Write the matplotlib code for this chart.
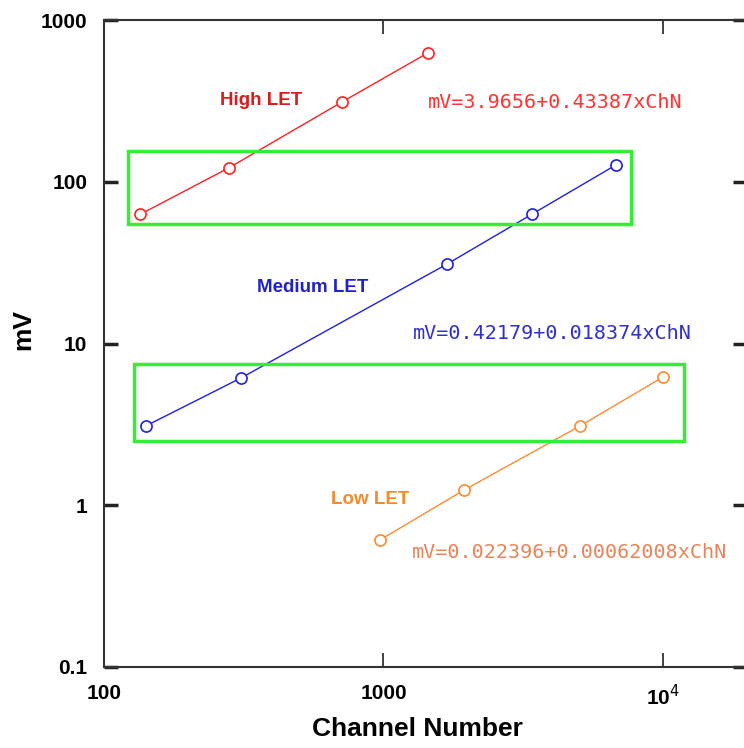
import matplotlib
matplotlib.use("Agg")
import matplotlib.pyplot as plt
from matplotlib.patches import Rectangle

# channel number vs mV for the three LET ranges
high_ch = [135, 280, 710, 1440]
high_mv = [63, 122, 311, 625]
med_ch = [141, 309, 1690, 3400, 6790]
med_mv = [3.09, 6.12, 31.0, 63.0, 127]
low_ch = [971, 1940, 5050, 10000]
low_mv = [0.61, 1.24, 3.09, 6.2]

labels = ["High LET", "Medium LET", "Low LET"]
fits = ["mV=3.9656+0.43387xChN", "mV=0.42179+0.018374xChN",
        "mV=0.022396+0.00062008xChN"]

# highlighted regions (x0, x1, y0, y1)
boxes = [(122, 7700, 54.8, 155), (128, 11900, 2.5, 7.45)]

plt.rcParams['font.family'] = ['Liberation Sans', 'DejaVu Sans']

fig = plt.figure(figsize=(7.44, 7.48), dpi=100)
ax = fig.add_axes([104/744, 1 - 667/748, 643/744, 647/748])
ax.set_xscale('log')
ax.set_yscale('log')
ax.set_xlim(100, 20000)
ax.set_ylim(0.1, 1000)

cols = ['#ff2020', '#2020dd', '#ff8a30']
for ch, mv, c in zip([high_ch, med_ch, low_ch], [high_mv, med_mv, low_mv], cols):
    ax.plot(ch, mv, '-o', color=c, lw=1, ms=8, mfc='white', mec=c, mew=1.2)

for x0, x1, y0, y1 in boxes:
    ax.add_patch(Rectangle((x0, y0), x1 - x0, y1 - y0, fill=False,
                           ec='#33ee33', lw=2.5, zorder=3))

# series names and fitted equations
mono = 'DejaVu Sans Mono'
ax.text(365, 320, labels[0], color='#dd1a1a', fontsize=13.5, fontweight='bold',
        ha='center', va='center')
ax.text(1443, 311, fits[0], color='#ff3333', fontsize=14.5, family=mono,
        ha='left', va='center')
ax.text(560, 22.3, labels[1], color='#2020cc', fontsize=13.5, fontweight='bold',
        ha='center', va='center')
ax.text(1275, 11.6, fits[1], color='#3030cc', fontsize=14.5, family=mono,
        ha='left', va='center')
ax.text(896, 1.09, labels[2], color='#f58a2a', fontsize=13.5, fontweight='bold',
        ha='center', va='center')
ax.text(1265, 0.514, fits[2], color='#e8845a', fontsize=14.5, family=mono,
        ha='left', va='center')

ax.set_xticks([100, 1000, 10000])
ax.set_xticklabels(['100', '1000', '10$^4$'])
ax.set_yticks([0.1, 1, 10, 100, 1000])
ax.set_yticklabels(['0.1', '1', '10', '100', '1000'])
ax.minorticks_off()
ax.tick_params(axis='both', direction='in', top=True, right=True, length=10,
               labelsize=15, color='#222222')
ax.tick_params(axis='y', width=2.5, pad=12)
ax.tick_params(axis='x', width=1.2, pad=12)
for lab in ax.get_xticklabels() + ax.get_yticklabels():
    lab.set_fontweight('bold')
for s in ax.spines.values():
    s.set_linewidth(1.5)
    s.set_color('#333333')

ax.set_xlabel('Channel Number', fontsize=19, fontweight='bold')
ax.set_ylabel('mV', fontsize=19, fontweight='bold')
ax.xaxis.set_label_coords(0.488, -0.077)
ax.yaxis.set_label_coords(-0.107, 0.521)

fig.savefig('out.png', dpi=100)
